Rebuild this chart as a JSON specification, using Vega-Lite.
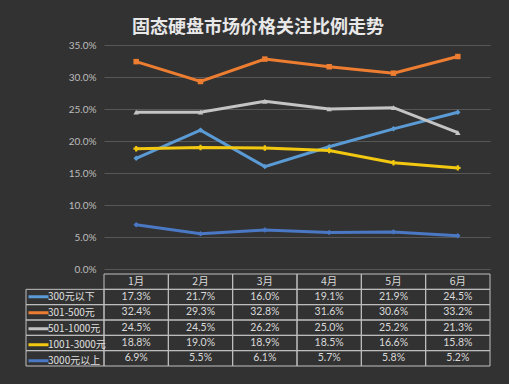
{
  "$schema": "https://vega.github.io/schema/vega-lite/v6.json",
  "background": "#323232",
  "padding": {"left": 25, "right": 20, "top": 19, "bottom": 20},
  "title": {"text": "固态硬盘市场价格关注比例走势", "fontSize": 18, "fontWeight": "bold", "color": "#e8e8e8", "font": "Noto Sans CJK SC", "anchor": "middle", "offset": 3},
  "config": {"view": {"stroke": null}, "font": "Noto Sans CJK SC"},
  "datasets": {
    "d": [
      {"series": "300元以下", "month": "1月", "value": 0.173},
      {"series": "300元以下", "month": "2月", "value": 0.217},
      {"series": "300元以下", "month": "3月", "value": 0.160},
      {"series": "300元以下", "month": "4月", "value": 0.191},
      {"series": "300元以下", "month": "5月", "value": 0.219},
      {"series": "300元以下", "month": "6月", "value": 0.245},
      {"series": "301-500元", "month": "1月", "value": 0.324},
      {"series": "301-500元", "month": "2月", "value": 0.293},
      {"series": "301-500元", "month": "3月", "value": 0.328},
      {"series": "301-500元", "month": "4月", "value": 0.316},
      {"series": "301-500元", "month": "5月", "value": 0.306},
      {"series": "301-500元", "month": "6月", "value": 0.332},
      {"series": "501-1000元", "month": "1月", "value": 0.245},
      {"series": "501-1000元", "month": "2月", "value": 0.245},
      {"series": "501-1000元", "month": "3月", "value": 0.262},
      {"series": "501-1000元", "month": "4月", "value": 0.250},
      {"series": "501-1000元", "month": "5月", "value": 0.252},
      {"series": "501-1000元", "month": "6月", "value": 0.213},
      {"series": "1001-3000元", "month": "1月", "value": 0.188},
      {"series": "1001-3000元", "month": "2月", "value": 0.190},
      {"series": "1001-3000元", "month": "3月", "value": 0.189},
      {"series": "1001-3000元", "month": "4月", "value": 0.185},
      {"series": "1001-3000元", "month": "5月", "value": 0.166},
      {"series": "1001-3000元", "month": "6月", "value": 0.158},
      {"series": "3000元以上", "month": "1月", "value": 0.069},
      {"series": "3000元以上", "month": "2月", "value": 0.055},
      {"series": "3000元以上", "month": "3月", "value": 0.061},
      {"series": "3000元以上", "month": "4月", "value": 0.057},
      {"series": "3000元以上", "month": "5月", "value": 0.058},
      {"series": "3000元以上", "month": "6月", "value": 0.052}
    ]
  },
  "resolve": {
    "scale": {"color": "independent", "shape": "independent"},
    "legend": {"color": "independent", "shape": "independent"}
  },
  "spacing": -6,
  "vconcat": [
    {
      "bounds": "flush",
      "spacing": 0,
      "hconcat": [
        {
          "width": 78,
          "height": 224,
          "data": {"values": []},
          "mark": "point"
        },
        {
          "width": 386,
          "height": 224,
          "data": {"name": "d"},
          "encoding": {
            "x": {"field": "month", "type": "ordinal", "scale": {"type": "point", "padding": 0.5, "domain": ["1月", "2月", "3月", "4月", "5月", "6月"]}, "axis": null},
            "y": {"field": "value", "type": "quantitative", "scale": {"domain": [0, 0.35]},
              "axis": {"values": [0, 0.05, 0.1, 0.15, 0.2, 0.25, 0.3, 0.35], "format": ".1%", "title": null, "domain": false, "ticks": false, "labelPadding": 8, "labelColor": "#bdbdbd", "labelFontSize": 10, "labelFont": "Lato", "gridColor": "#575757", "gridWidth": 1}},
            "color": {"field": "series", "type": "nominal",
              "scale": {"domain": ["300元以下", "301-500元", "501-1000元", "1001-3000元", "3000元以上"], "range": ["#5b9bd5", "#ed7d31", "#c4c4c4", "#f2c811", "#4a78c4"]},
              "legend": null}
          },
          "layer": [
            {
              "mark": {"type": "line", "strokeWidth": 3}
            },
            {
              "mark": {"type": "point", "filled": true, "size": 30, "opacity": 1},
              "encoding": {
                "shape": {"field": "series", "type": "nominal",
                  "scale": {"domain": ["300元以下", "301-500元", "501-1000元", "1001-3000元", "3000元以上"], "range": ["diamond", "square", "triangle-up", "cross", "diamond"]},
                  "legend": null}
              }
            }
          ]
        }
      ]
    },
    {
      "bounds": "flush",
      "spacing": 0,
      "hconcat": [
        {
          "width": 78,
          "height": 92,
          "data": {"name": "d"},
          "transform": [{"aggregate": [{"op": "count", "as": "n"}], "groupby": ["series"]}],
          "encoding": {
            "y": {"field": "series", "type": "nominal", "scale": {"domain": ["月", "300元以下", "301-500元", "501-1000元", "1001-3000元", "3000元以上"], "paddingInner": 0, "paddingOuter": 0}, "axis": null}
          },
          "layer": [
            {
              "mark": {"type": "rect", "fill": "transparent", "stroke": "#c0c0c0", "strokeWidth": 1}
            },
            {
              "mark": {"type": "point", "opacity": 0},
              "encoding": {
                "color": {"field": "series", "type": "nominal",
                  "scale": {"domain": ["300元以下", "301-500元", "501-1000元", "1001-3000元", "3000元以上"], "range": ["#5b9bd5", "#ed7d31", "#c4c4c4", "#f2c811", "#4a78c4"]},
                  "legend": {"orient": "none", "legendX": 1, "legendY": 15, "title": null, "symbolType": "stroke", "symbolSize": 400, "symbolStrokeWidth": 3, "symbolOpacity": 1, "rowPadding": 0, "clipHeight": 15.33, "labelFontSize": 10, "labelColor": "#e0e0e0", "labelOffset": -2, "padding": 0, "labelFont": "Noto Sans CJK SC"}}
              }
            }
          ]
        },
        {
          "width": 386,
          "height": 92,
          "data": {"name": "d"},
          "layer": [
            {
              "mark": {"type": "rect", "fill": "transparent", "stroke": "#c0c0c0", "strokeWidth": 1},
              "encoding": {
                "x": {"field": "month", "type": "nominal", "scale": {"domain": ["1月", "2月", "3月", "4月", "5月", "6月"], "paddingInner": 0, "paddingOuter": 0}, "axis": null},
                "y": {"field": "series", "type": "nominal", "scale": {"domain": ["月", "300元以下", "301-500元", "501-1000元", "1001-3000元", "3000元以上"], "paddingInner": 0, "paddingOuter": 0}, "axis": null}
              }
            },
            {
              "mark": {"type": "text", "color": "#d9d9d9", "fontSize": 10.5, "font": "Lato", "baseline": "middle"},
              "encoding": {
                "x": {"field": "month", "type": "nominal"},
                "y": {"field": "series", "type": "nominal"},
                "text": {"field": "value", "type": "quantitative", "format": ".1%"}
              }
            },
            {
              "transform": [{"aggregate": [{"op": "count", "as": "n"}], "groupby": ["month"]}],
              "mark": {"type": "rect", "fill": "transparent", "stroke": "#c0c0c0", "strokeWidth": 1},
              "encoding": {
                "x": {"field": "month", "type": "nominal"},
                "y": {"datum": "月", "type": "nominal"}
              }
            },
            {
              "transform": [{"aggregate": [{"op": "count", "as": "n"}], "groupby": ["month"]}],
              "mark": {"type": "text", "color": "#d9d9d9", "fontSize": 10.5, "font": "Noto Sans CJK SC", "baseline": "middle"},
              "encoding": {
                "x": {"field": "month", "type": "nominal"},
                "y": {"datum": "月", "type": "nominal"},
                "text": {"field": "month", "type": "nominal"}
              }
            }
          ]
        }
      ]
    }
  ]
}
